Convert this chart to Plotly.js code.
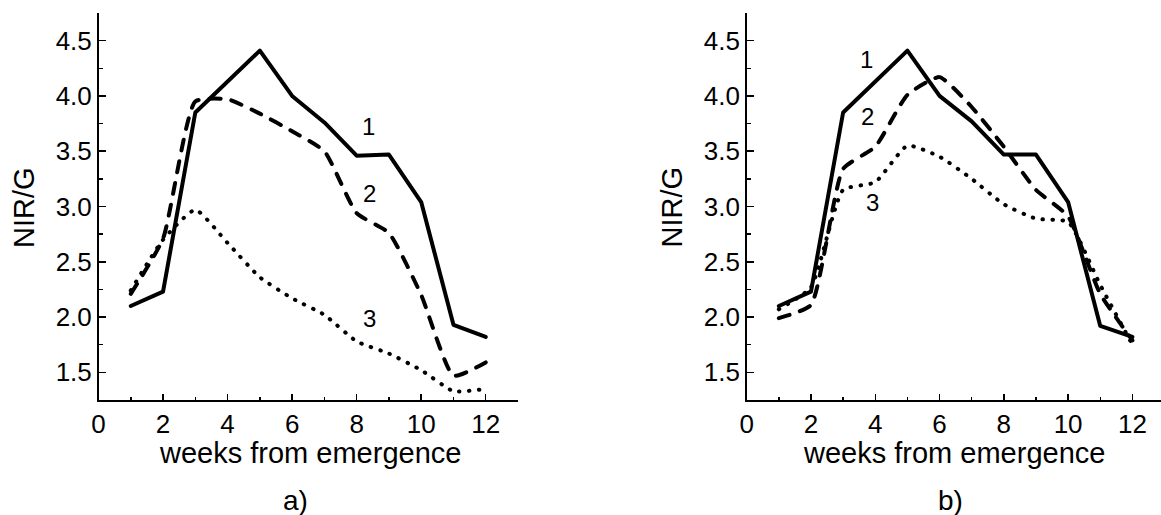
<!DOCTYPE html>
<html>
<head>
<meta charset="utf-8">
<script src="https://cdn.plot.ly/plotly-3.0.1.min.js"></script>
<style>html,body{margin:0;padding:0;background:#fff;overflow:hidden}</style>
</head>
<body>
<div id="chart" style="width:1161px;height:515px"></div>
<script>
const weeks = [1,2,3,4,5,6,7,8,9,10,11,12];
// panel a)
const a_s1 = [2.10,2.23,3.85,4.13,4.41,4.00,3.76,3.46,3.47,3.04,1.93,1.82];
const a_s2 = [2.21,2.71,3.95,3.97,3.84,3.68,3.50,2.94,2.76,2.20,1.47,1.59];
const a_s3 = [2.24,2.70,2.97,2.67,2.36,2.17,2.02,1.78,1.67,1.52,1.33,1.35];
// panel b)
const b_s1 = [2.10,2.23,3.85,4.13,4.41,4.00,3.77,3.47,3.47,3.04,1.92,1.82];
const b_s2 = [1.99,2.11,3.34,3.54,4.01,4.17,3.90,3.54,3.15,2.91,2.21,1.79];
const b_s3 = [2.07,2.27,3.15,3.22,3.55,3.45,3.25,3.02,2.89,2.86,2.29,1.75];
const seriesLabels = ['1','2','3'];
const panelLabels = ['a)','b)'];
const xTitle = 'weeks from emergence';
const yTitle = 'NIR/G';

const FONT = 'Liberation Sans, Arial, sans-serif';
const lw = 4;
function tr(y, dash, xa, ya, spline){
  return {x: weeks, y: y, xaxis: xa, yaxis: ya, mode: 'lines', hoverinfo: 'skip',
    line: {color: '#000', width: lw, dash: dash, shape: spline ? 'spline' : 'linear', smoothing: 0.5}};
}
const DASH = '11px,11px';
const DOT = '0.5px,9.5px';
const data = [
  tr(a_s1, 'solid', 'x', 'y', false),
  tr(a_s2, DASH, 'x', 'y', true),
  tr(a_s3, DOT, 'x', 'y', true),
  tr(b_s1, 'solid', 'x2', 'y2', false),
  tr(b_s2, DASH, 'x2', 'y2', true),
  tr(b_s3, DOT, 'x2', 'y2', true)
];

const W = 1161, H = 515;
const yDom = [1 - 400/H, 1 - 13/H];
function xax(dom, rng){
  return {domain: dom, range: rng, showgrid: false, zeroline: false, showline: true,
    linecolor: '#000', linewidth: 1.5, ticks: 'inside', ticklen: 6, tickwidth: 1.5, tickcolor: '#000',
    tickmode: 'linear', tick0: 0, dtick: 2,
    minor: {ticks: 'inside', ticklen: 3, tickwidth: 1.5, tickcolor: '#000', dtick: 1, tick0: 0, showgrid: false},
    tickfont: {family: FONT, size: 26, color: '#000'}, fixedrange: true};
}
function yax(anchor){
  return {domain: yDom, range: [1.25, 4.75], anchor: anchor, showgrid: false, zeroline: false, showline: true,
    linecolor: '#000', linewidth: 1.5, ticks: 'inside', ticklen: 7.5, tickwidth: 1.5, tickcolor: '#000',
    tickmode: 'array', tickvals: [1.5,2.0,2.5,3.0,3.5,4.0,4.5], ticktext: ['1.5','2.0','2.5','3.0','3.5','4.0','4.5'],
    minor: {ticks: 'inside', ticklen: 4, tickwidth: 1.5, tickcolor: '#000', tickvals: [1.25,1.75,2.25,2.75,3.25,3.75,4.25,4.75], showgrid: false},
    tickfont: {family: FONT, size: 26, color: '#000'}, fixedrange: true};
}
const xa1 = xax([98.5/W, 518/W], [0, 13]);
xa1.anchor = 'y';
const xa2 = xax([746.7/W, 1], [0, 12.89]);
xa2.anchor = 'y2';

function ann(x, y, text, xref, yref, size, extra){
  return Object.assign({x: x, y: y, xref: xref, yref: yref, text: text, showarrow: false,
    font: {family: FONT, size: size, color: '#000'}, xanchor: 'center', yanchor: 'middle'}, extra || {});
}
const annotations = [
  ann(8.36, 3.72, seriesLabels[0], 'x', 'y', 24),
  ann(8.41, 3.12, seriesLabels[1], 'x', 'y', 24),
  ann(8.41, 1.99, seriesLabels[2], 'x', 'y', 24),
  ann(3.73, 4.33, seriesLabels[0], 'x2', 'y2', 24),
  ann(3.75, 3.81, seriesLabels[1], 'x2', 'y2', 24),
  ann(3.92, 3.04, seriesLabels[2], 'x2', 'y2', 24),
  ann(23.5/W, 1 - 207.5/H, yTitle, 'paper', 'paper', 29, {textangle: -90}),
  ann(671/W, 1 - 207.5/H, yTitle, 'paper', 'paper', 29, {textangle: -90}),
  ann(310/W, 1 - 453/H, xTitle, 'paper', 'paper', 29),
  ann(953.5/W, 1 - 453/H, xTitle, 'paper', 'paper', 29),
  ann(295/W, 1 - 500/H, panelLabels[0], 'paper', 'paper', 28),
  ann(950/W, 1 - 500/H, panelLabels[1], 'paper', 'paper', 28)
];

const layout = {
  width: W, height: H, margin: {l: 0, r: 0, t: 0, b: 0},
  paper_bgcolor: '#fff', plot_bgcolor: '#fff', showlegend: false,
  xaxis: xa1, yaxis: yax('x'), xaxis2: xa2, yaxis2: yax('x2'),
  annotations: annotations
};
Plotly.newPlot('chart', data, layout, {displayModeBar: false, staticPlot: true}).then(function(){
  document.querySelectorAll('.scatterlayer path.js-line').forEach(function(p){
    p.style.strokeLinecap = 'round';
    p.style.strokeLinejoin = 'round';
  });
});
</script>
</body>
</html>
